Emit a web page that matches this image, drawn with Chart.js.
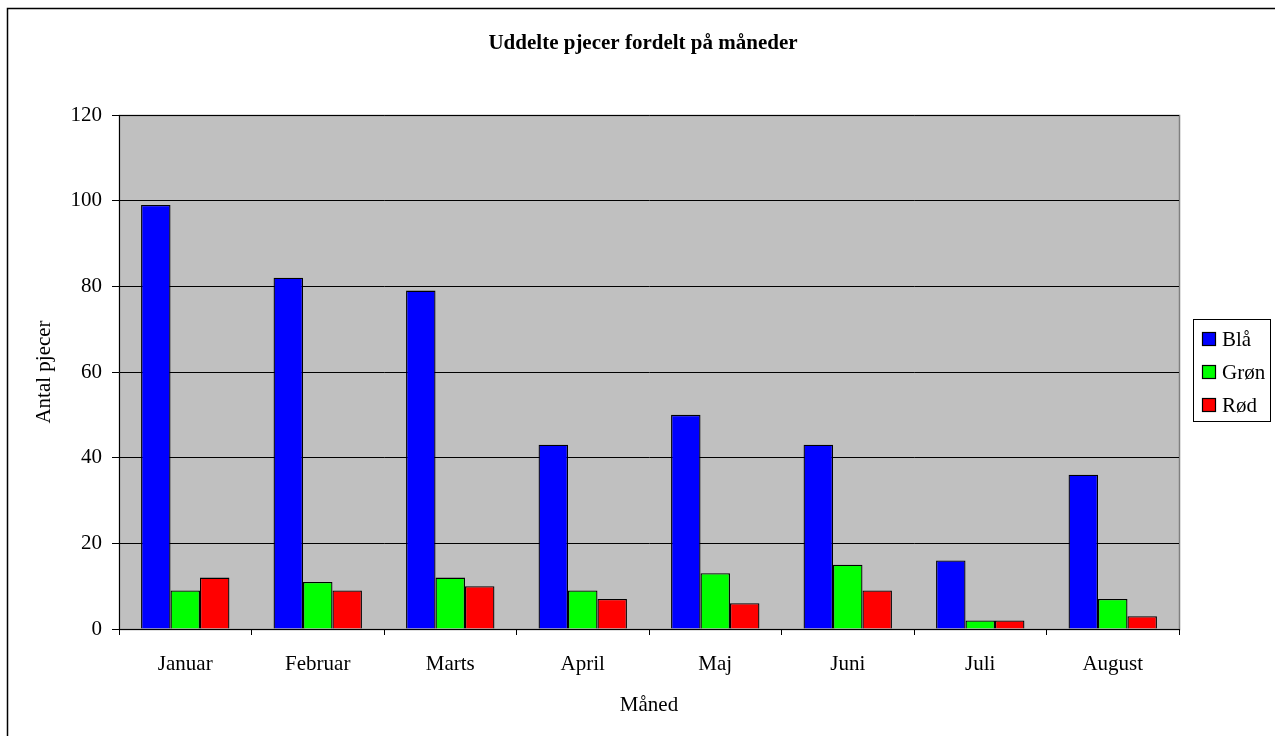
<!DOCTYPE html>
<html>
<head>
<meta charset="utf-8">
<script src="https://cdn.jsdelivr.net/npm/chart.js@4/dist/chart.umd.min.js"></script>
<style>
html,body{margin:0;padding:0;background:#fff;}
#wrap{width:1275px;height:736px;}
</style>
</head>
<body>
<div id="wrap"><canvas id="c" width="1275" height="736"></canvas></div>
<script>
const months = ["Januar","Februar","Marts","April","Maj","Juni","Juli","August"];
const blaa = [99, 82, 79, 43, 50, 43, 16, 36];
const groen = [9, 11, 12, 9, 13, 15, 2, 7];
const roed = [12, 9, 10, 7, 6, 9, 2, 3];
const seriesNames = ["Blå","Grøn","Rød"];
const yTicks = [0, 20, 40, 60, 80, 100, 120];
const chartTitle = "Uddelte pjecer fordelt på måneder";

const FONT = "'Liberation Serif', 'Times New Roman', serif";
const FS = 21;

const framePlugin = {
  id: 'frame',
  beforeDraw(chart) {
    const ctx = chart.ctx, a = chart.chartArea;
    ctx.save();
    ctx.fillStyle = '#fff';
    ctx.fillRect(0, 0, chart.width, chart.height);
    ctx.strokeStyle = '#000';
    ctx.lineWidth = 1.5;
    ctx.beginPath();
    ctx.moveTo(7.5, chart.height + 2);
    ctx.lineTo(7.5, 8.5);
    ctx.lineTo(chart.width + 2, 8.5);
    ctx.stroke();
    ctx.fillStyle = '#C0C0C0';
    ctx.fillRect(a.left, a.top, a.right - a.left, a.bottom - a.top);
    ctx.strokeStyle = '#808080';
    ctx.lineWidth = 1.5;
    ctx.strokeRect(a.left + 0.5, a.top + 0.5, a.right - a.left, a.bottom - a.top);
    ctx.restore();
  },
  afterDraw(chart) {
    const ctx = chart.ctx;
    ctx.save();
    // title
    ctx.fillStyle = '#000';
    ctx.font = "bold " + FS + "px " + FONT;
    ctx.textAlign = 'center';
    ctx.textBaseline = 'middle';
    ctx.fillText(chartTitle, 643, 44);
    // legend
    const bx = 1193.5, by = 319.5, bw = 77, bh = 102;
    ctx.fillStyle = '#fff';
    ctx.fillRect(bx, by, bw, bh);
    ctx.strokeStyle = '#000';
    ctx.lineWidth = 1;
    ctx.strokeRect(bx, by, bw, bh);
    const rows = [339, 372, 405];
    ctx.font = FS + "px " + FONT;
    ctx.textBaseline = 'middle';
    ctx.textAlign = 'left';
    chart.data.datasets.forEach((ds, i) => {
      const y = rows[i];
      ctx.fillStyle = ds.backgroundColor;
      ctx.fillRect(1202.5, y - 6.5, 13, 13);
      ctx.strokeStyle = '#000';
      ctx.lineWidth = 1.2;
      ctx.strokeRect(1202.5, y - 6.5, 13, 13);
      ctx.fillStyle = '#000';
      ctx.fillText(ds.label, 1222, y + 1);
    });
    ctx.restore();
  }
};

new Chart(document.getElementById('c'), {
  type: 'bar',
  data: {
    labels: months,
    datasets: [
      { label: seriesNames[0], data: blaa, backgroundColor: '#0000FF' },
      { label: seriesNames[1], data: groen, backgroundColor: '#00FF00' },
      { label: seriesNames[2], data: roed, backgroundColor: '#FF0000' }
    ].map(d => Object.assign(d, { borderColor: '#000', borderWidth: 1.3, categoryPercentage: 0.667, barPercentage: 1.0 }))
  },
  options: {
    responsive: false,
    animation: false,
    devicePixelRatio: 1,
    layout: { padding: { top: 115, left: 0, right: 96, bottom: 0 } },
    plugins: {
      legend: { display: false },
      tooltip: { enabled: false },
      title: { display: false }
    },
    scales: {
      x: {
        grid: { display: true, drawOnChartArea: false, drawTicks: true, tickLength: 6, color: '#000', offset: true },
        border: { display: true, color: '#000', width: 1 },
        ticks: { color: '#000', font: { family: FONT, size: FS }, padding: 17, maxRotation: 0 },
        title: { display: true, text: 'Måned', color: '#000', font: { family: FONT, size: FS }, padding: { top: 0, bottom: 18 } },
        afterFit(s) { s.height = 107; }
      },
      y: {
        min: 0, max: 120,
        afterBuildTicks(s) { s.ticks = yTicks.map(v => ({ value: v })); },
        grid: { display: true, drawOnChartArea: true, drawTicks: true, tickLength: 7, color: '#000', lineWidth: 1 },
        border: { display: true, color: '#000', width: 1 },
        ticks: { color: '#000', font: { family: FONT, size: FS }, padding: 10 },
        title: { display: true, text: 'Antal pjecer', color: '#000', font: { family: FONT, size: FS }, padding: { top: 32, bottom: 0 } },
        afterFit(s) { s.width = 119; }
      }
    }
  },
  plugins: [framePlugin]
});
</script>
</body>
</html>
